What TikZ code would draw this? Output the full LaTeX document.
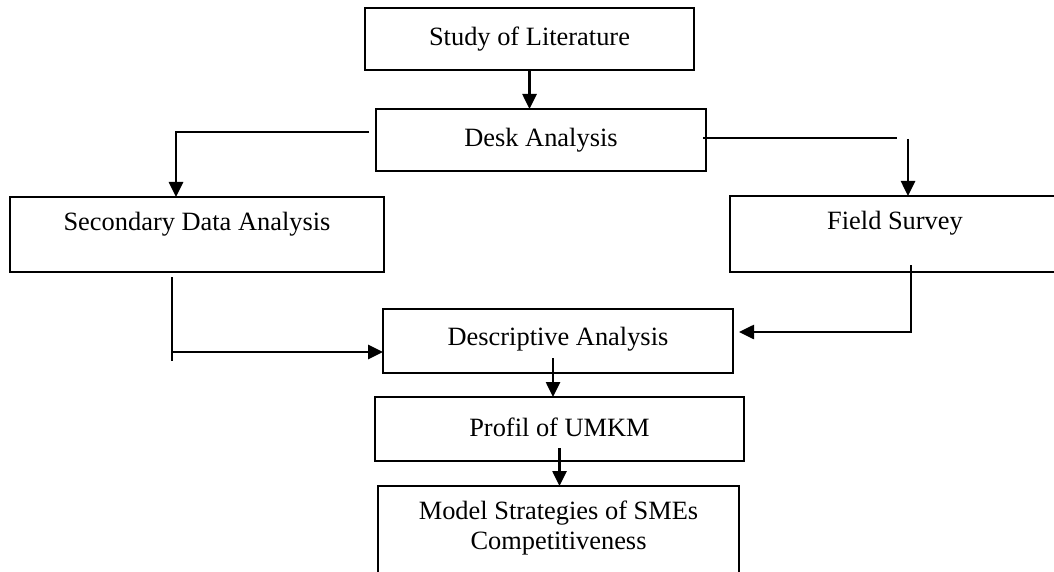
\documentclass[tikz,border=0pt]{standalone}
\usepackage{fontspec}
\setmainfont{Liberation Serif}
\usetikzlibrary{arrows.meta}

\tikzset{
  box/.style={draw=black, line width=1.8pt, rectangle, inner sep=0pt, outer sep=0pt},
  lbl/.style={inner sep=0pt, font=\fontsize{26.4}{30}\selectfont, align=center},
  wire/.style={draw=black, line width=2.6pt},
  arr/.style={wire, -{Triangle[length=15pt,width=14pt]}}
}

\begin{document}
\begin{tikzpicture}[x=1pt, y=-1pt]
  \useasboundingbox (0,0) rectangle (1054,572);
  \clip (0,0) rectangle (1054,572);
  \fill[white] (0,0) rectangle (1054,572);

  % process boxes
  \node[box, minimum width=329pt, minimum height=62pt] (study) at (529.5,39) {};
  \node[lbl] (studyt) at (study.center) {Study of Literature};

  \node[box, minimum width=330pt, minimum height=62pt] (desk) at (541,140) {};
  \node[lbl] (deskt) at (desk.center) {Desk Analysis};

  \node[box, minimum width=374pt, minimum height=75pt] (sec) at (197,234.5) {};
  \node[lbl, yshift=10pt] (sect) at (sec.center) {Secondary Data Analysis};

  \node[box, minimum width=330pt, minimum height=76pt] (field) at (895,234) {};
  \node[lbl, yshift=11pt] (fieldt) at (field.center) {Field Survey};

  \node[box, minimum width=350pt, minimum height=64pt] (desc) at (558,341) {};
  \node[lbl, yshift=2pt] (desct) at (desc.center) {Descriptive Analysis};

  \node[box, minimum width=369pt, minimum height=64pt] (prof) at (559.5,429) {};
  \node[lbl, yshift=2pt] (proft) at (prof.center) {Profil of UMKM};

  \node[box, minimum width=361pt, minimum height=130pt] (model) at (558.5,551) {};
  \node[lbl] (modelt) at (558.5,528) {Model Strategies of SMEs\\Competitiveness};

  % free ends of the broken connectors
  \coordinate (fdrop) at (908,138);
  \coordinate (sjoin) at (172,352);

  % connectors
  \draw[arr] (study.south) -- (study.south |- desk.north);

  \draw[arr] ([xshift=-7pt,yshift=8pt]desk.west) -| ([xshift=-21pt]sec.north);

  \draw[wire] ([xshift=-3pt,yshift=2pt]desk.east) -- ([xshift=-11pt]fdrop);
  \draw[arr] ([yshift=-1pt]fdrop) -- (fdrop |- field.north);

  \draw[wire] ([xshift=-25pt,yshift=-5pt]sec.south) -- (172,361);
  \draw[arr] (sjoin) -- (sjoin -| desc.west);

  \draw[arr] ([xshift=16pt,yshift=7pt]field.south) |- ([xshift=6pt,yshift=9pt]desc.east);

  \draw[arr] ([xshift=-5pt,yshift=15pt]desc.south) coordinate (dstart) -- (dstart |- prof.north);

  \draw[arr] ([yshift=13pt]prof.south) -- (prof.south |- model.north);
\end{tikzpicture}
\end{document}
